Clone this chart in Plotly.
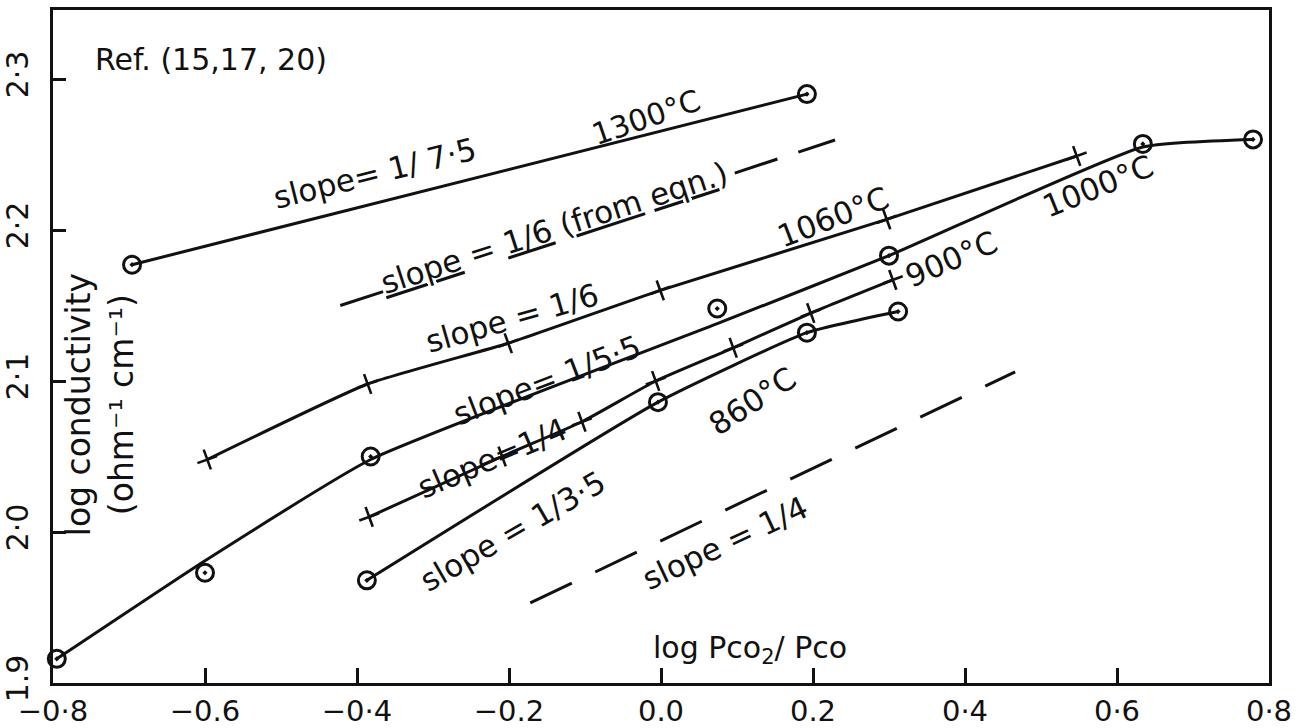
import plotly.graph_objects as go

FONT = "DejaVu Sans"
INK = "#111111"

# ---- axis ticks -------------------------------------------------------
x_ticks = [-0.8, -0.6, -0.4, -0.2, 0.0, 0.2, 0.4, 0.6, 0.8]
x_ticktext = ["−0·8", "−0.6", "−0·4", "−0.2", "0.0", "0.2", "0·4", "0·6", "0·8"]
y_ticks = [1.9, 2.0, 2.1, 2.2, 2.3]
y_ticktext = ["1.9", "2·0", "2·1", "2·2", "2·3"]

# ---- data ------------------------------------------------------------
# 1300 °C (circles)
t1300_x = [-0.696, 0.192]
t1300_y = [2.177, 2.290]

# 1060 °C (crosses)
t1060_x = [-0.597, -0.386, -0.201, -0.001, 0.297, 0.547]
t1060_y = [2.048, 2.098, 2.125, 2.160, 2.207, 2.249]

# 1000 °C (circles) measured points
t1000_x = [-0.795, -0.600, -0.382, 0.074, 0.300, 0.634, 0.779]
t1000_y = [1.916, 1.973, 2.050, 2.148, 2.183, 2.257, 2.260]
# 1000 °C hand-drawn curve
t1000_fit_x = [-0.795, -0.600, -0.382, 0.074, 0.300, 0.634, 0.779]
t1000_fit_y = [1.916, 1.981, 2.048, 2.138, 2.183, 2.255, 2.260]

# 900 °C (crosses)
t900_x = [-0.384, -0.209, -0.104, -0.007, 0.095, 0.197, 0.305]
t900_y = [2.010, 2.050, 2.073, 2.100, 2.122, 2.145, 2.167]

# 860 °C (circles)
t860_x = [-0.387, -0.004, 0.192, 0.312]
t860_y = [1.968, 2.086, 2.132, 2.146]

# dashed reference lines
eqn16_x = [-0.422, -0.359, None, 0.097, 0.229]
eqn16_y = [2.150, 2.1603, None, 2.2377, 2.2596]
ref14_x = [-0.172, 0.466]
ref14_y = [1.953, 2.106]

fig = go.Figure()

def solid(x, y, shape="spline"):
    fig.add_trace(go.Scatter(
        x=x, y=y, mode="lines",
        line=dict(color=INK, width=3, shape=shape, smoothing=0.45),
        hoverinfo="skip", showlegend=False))

def circles(x, y):
    fig.add_trace(go.Scatter(
        x=x, y=y, mode="markers", cliponaxis=False,
        marker=dict(symbol="circle-open-dot", size=17, color=INK,
                    line=dict(color=INK, width=3)),
        showlegend=False))

def crosses(x, y):
    fig.add_trace(go.Scatter(
        x=x, y=y, mode="markers", cliponaxis=False,
        marker=dict(symbol="cross-thin", size=15, angle=-20, color=INK,
                    line=dict(color=INK, width=2.6)),
        showlegend=False))

# 1300
solid(t1300_x, t1300_y, "linear")
circles(t1300_x, t1300_y)
# 1060
solid(t1060_x, t1060_y)
crosses(t1060_x, t1060_y)
# 1000
solid(t1000_fit_x, t1000_fit_y)
circles(t1000_x, t1000_y)
# 900
solid(t900_x, t900_y)
crosses(t900_x, t900_y)
# 860
solid(t860_x, t860_y)
circles(t860_x, t860_y)

# dashed lines
fig.add_trace(go.Scatter(x=eqn16_x, y=eqn16_y, mode="lines",
                         line=dict(color=INK, width=3, dash="45px,22px"),
                         connectgaps=False, showlegend=False))
fig.add_trace(go.Scatter(x=ref14_x, y=ref14_y, mode="lines",
                         line=dict(color=INK, width=3, dash="46px,26px"),
                         showlegend=False))

# ---- text labels -------------------------------------------------------
labels = [
    ("Ref. (15,17, 20)", -0.747, 2.3126, 0, "left", 30),
    ("slope= 1/ 7·5", -0.376, 2.2377, -14, "center", 31),
    ("1300°C", -0.020, 2.2745, -19, "center", 30),
    ("<u>slope</u> = <u>1/6</u> (<u>from</u> <u>eqn.</u>)", -0.141, 2.2013, -18, "center", 31),
    ("1060°C", 0.226, 2.2086, -21, "center", 31),
    ("1000°C", 0.575, 2.229, -22, "center", 31),
    ("900°C", 0.382, 2.181, -23, "center", 31),
    ("slope = 1/6", -0.196, 2.1417, -16, "center", 31),
    ("slope= 1/5·5", -0.150, 2.1007, -21, "center", 31),
    ("slope=1/4", -0.222, 2.049, -23, "center", 31),
    ("860°C", 0.120, 2.087, -33, "center", 31),
    ("slope = 1/3·5", -0.195, 2.0005, -30, "center", 31),
    ("slope = 1/4", 0.084, 1.9927, -25, "center", 31),
    ("log Pco<sub>2</sub>/ Pco", 0.117, 1.9219, 0, "center", 30),
]
for text, x, y, ang, xa, size in labels:
    fig.add_annotation(x=x, y=y, text=text, showarrow=False, textangle=ang,
                       xanchor=xa, yanchor="middle",
                       font=dict(family=FONT, size=size, color=INK))

fig.add_annotation(x=-0.738, y=2.084, showarrow=False, textangle=-90,
                   text="log conductivity<br>(ohm⁻¹ cm⁻¹)",
                   font=dict(family=FONT, size=33, color=INK))

axis_common = dict(showgrid=False, zeroline=False, showline=True, linewidth=3,
                   linecolor=INK, mirror=True, ticks="inside", tickwidth=2.5,
                   tickcolor=INK, automargin=False)

fig.update_layout(
    width=1306, height=728,
    margin=dict(l=53, r=37, t=10, b=45),
    paper_bgcolor="white", plot_bgcolor="white",
    xaxis=dict(range=[-0.8, 0.8], tickvals=x_ticks, ticktext=x_ticktext,
               ticklen=15, ticklabelstandoff=0,
               tickfont=dict(family=FONT, size=29, color=INK), **axis_common),
    yaxis=dict(range=[1.9, 2.3457], tickvals=y_ticks, ticktext=y_ticktext,
               ticklen=13, tickangle=-90, ticklabelstandoff=10,
               tickfont=dict(family=FONT, size=30, color=INK), **axis_common),
    showlegend=False,
)

fig.write_html("out.html")
